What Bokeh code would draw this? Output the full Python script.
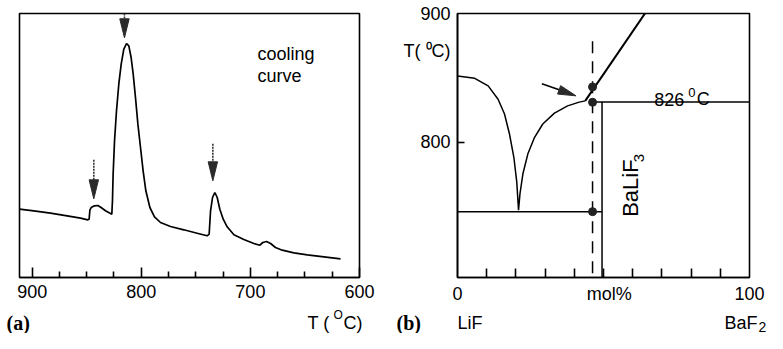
import math
from bokeh.plotting import figure
from bokeh.models import Range1d, FixedTicker, Label
from bokeh.layouts import row, column
from bokeh.embed import file_html
from bokeh.resources import INLINE

FONT = "Liberation Sans"
SERIF = "Liberation Serif"

# ---------------- data: panel (a) DTA cooling curve ----------------
dta_T = [911.6, 898.5, 883.2, 867.9, 855.7, 849.0, 847.8, 847.1, 845.9, 842.9,
         839.8, 836.8, 832.8, 828.2, 827.0, 826.4, 825.8, 824.5, 822.7, 820.6,
         818.4, 816.0, 813.5, 811.4, 809.3, 807.4, 805.3, 803.1, 800.7, 798.3,
         795.8, 792.1, 787.9, 782.4, 773.2, 761.0, 748.8, 739.6, 737.8, 736.5,
         734.7, 732.6, 730.4, 728.0, 724.9, 721.3, 715.1, 706.0, 696.8, 691.3,
         688.6, 685.2, 681.5, 677.0, 670.8, 660.1, 647.9, 632.6, 617.4]
dta_signal = [68.3, 66.7, 64.3, 61.7, 59.3, 57.7, 58.3, 67.3, 70.0, 71.7,
              72.0, 70.0, 66.7, 64.0, 63.3, 76.7, 103.3, 136.7, 166.7, 193.3,
              213.3, 228.3, 234.0, 231.7, 220.0, 203.3, 180.0, 153.3, 130.0, 106.7,
              86.7, 70.0, 60.7, 55.0, 51.0, 47.7, 44.3, 41.7, 43.3, 66.7,
              80.0, 85.0, 80.0, 68.3, 58.3, 50.7, 42.7, 38.0, 34.0, 32.3,
              35.0, 36.0, 34.0, 30.0, 27.3, 24.7, 22.7, 20.7, 18.7]
arrow_a_T = [843.5, 815.4, 734.4]
arrow_a_top = [117.7, 264.0, 133.7]
arrow_a_tip = [78.7, 239.7, 96.7]
a_major_ticks = [900, 800, 700, 600]
a_minor_ticks = [875, 850, 825, 775, 750, 725, 675, 650, 625]
a_T_range = [911.6, 600.0]
a_signal_range = [0.0, 264.0]

# ---------------- data: panel (b) LiF-BaF2 phase diagram ----------------
liq_m = [0, 5.9, 10.5, 13.9, 16.1, 17.8, 19.3, 20.3, 20.9, 21.4, 22.4, 24.1,
         26.4, 29.2, 33.2, 37.7, 41.7, 43.75]
liq_T = [851.8, 850.0, 844.1, 833.7, 822.1, 806.5, 788.3, 768.9, 746.9, 759.9,
         775.4, 791.0, 803.9, 814.3, 822.8, 828.5, 831.4, 832.4]
baf2_liq_m = [43.75, 65.6]
baf2_liq_T = [832.4, 905.4]
peritectic_T = 831.5
peritectic_label = "826"
peritectic_m = [45.5, 100.0]
compound_m = 49.5
eutectic_T = 745.8
eutectic_m = [0.0, 49.5]
sample_m = 46.25
sample_top_T = 879.0
dots_T = [843.3, 831.3, 745.8]
arrow_b_start = [28.9, 845.8]
arrow_b_end = [40.6, 836.3]
b_x_major = [0, 52, 100]
b_x_labels = {52: "mol%"}
b_x_minor = [10, 20, 30, 40, 50, 60, 70, 80, 90]
b_y_major = [800, 871, 900]
b_y_labels = {871: "T( \u2070C)"}
b_y_minor = [800]
b_m_range = [0.0, 100.0]
b_T_range = [694.3, 900.7]

# ---------------- layout (pixels) ----------------
H1, TXT_H = 306, 27
A_W, A_L, A_R, A_T = 389, 19, 30, 13
B_W, B_L, B_R, B_T = 378, 68, 18, 12
A_FW, A_FH = A_W - A_L - A_R, 264
B_FW, B_FH = B_W - B_L - B_R, 266
A_B = H1 - A_T - A_FH
B_B = H1 - B_T - B_FH
TOTAL_W = A_W + B_W

a_sx = A_FW / (a_T_range[1] - a_T_range[0])
a_sy = A_FH / (a_signal_range[1] - a_signal_range[0])
b_sx = B_FW / (b_m_range[1] - b_m_range[0])
b_sy = B_FH / (b_T_range[1] - b_T_range[0])


def ax_(px):
    return a_T_range[0] + (px - A_L) / a_sx


def ay_(py):
    return a_signal_range[1] - (py - A_T) / a_sy


def bm_ref(px):
    return (px - 459.3) / 2.933


def bT_ref(py):
    return 800 + (141.7 - py) / 1.287


def head(x_tip, y_tip, x_from, y_from, sx, sy, length, hw):
    dx = (x_tip - x_from) * sx
    dy = (y_tip - y_from) * sy
    L = math.hypot(dx, dy)
    ux, uy = dx / L, dy / L
    nx, ny = -uy, ux
    bx, by = -ux * length, -uy * length
    offs = [(bx + nx * hw, by + ny * hw), (bx - nx * hw, by - ny * hw), (0, 0)]
    xs = [x_tip + o[0] / sx for o in offs]
    ys = [y_tip + o[1] / sy for o in offs]
    return xs, ys, x_tip + bx / sx, y_tip + by / sy


def style(p):
    p.grid.visible = False
    p.outline_line_color = "black"
    p.outline_line_width = 1.6
    p.outline_line_alpha = 1.0
    p.background_fill_color = "white"
    p.border_fill_color = "white"


def label(p, x, y, text, size="18px", font=FONT, bold=False, align="left",
          angle=0.0, y_offset=0):
    p.add_layout(Label(x=x, y=y, text=text, text_font=font, text_font_size=size,
                       text_font_style="bold" if bold else "normal",
                       text_align=align, text_baseline="alphabetic",
                       text_color="black", angle=angle, y_offset=y_offset))


def axis_style(ax):
    ax.axis_line_width = 1.6
    ax.major_label_text_font = FONT
    ax.major_label_text_font_size = "18px"
    ax.major_label_text_color = "black"
    ax.minor_tick_out = 0
    ax.major_tick_out = 0
    ax.minor_tick_line_width = 1.6
    ax.major_tick_line_width = 1.6


# ---------------- panel (a) ----------------
pa = figure(width=A_W, height=H1, title=None, x_range=Range1d(*a_T_range),
            y_range=Range1d(*a_signal_range), y_axis_location=None,
            toolbar_location=None, output_backend="svg",
            min_border_left=A_L, min_border_right=A_R,
            min_border_top=A_T, min_border_bottom=A_B)
style(pa)
xa = pa.xaxis[0]
xa.ticker = FixedTicker(ticks=a_major_ticks, minor_ticks=a_minor_ticks)
axis_style(xa)
xa.major_tick_in = 10
xa.minor_tick_in = 6
xa.major_label_standoff = 7

pa.line(dta_T, dta_signal, line_color="black", line_width=1.7)

hxs, hys, bys = [], [], []
for T, tip in zip(arrow_a_T, arrow_a_tip):
    xs, ys, _, yb = head(T, tip, T, tip + 10, a_sx, a_sy, 19, 4.7)
    hxs.append(xs)
    hys.append(ys)
    bys.append(yb)
pa.segment(x0=arrow_a_T, y0=arrow_a_top, x1=arrow_a_T, y1=bys,
           line_color="#333333", line_width=1.6, line_dash="2 1")
pa.patches(hxs, hys, fill_color="#2a2a2a", line_color="#2a2a2a", line_width=1)

label(pa, ax_(257), ay_(53.7), "cooling")
label(pa, ax_(257), ay_(75), "curve")

# ---------------- panel (b) ----------------
pb = figure(width=B_W, height=H1, title=None, x_range=Range1d(*b_m_range),
            y_range=Range1d(*b_T_range), toolbar_location=None,
            output_backend="svg",
            min_border_left=B_L, min_border_right=B_R,
            min_border_top=B_T, min_border_bottom=B_B)
style(pb)
xb = pb.xaxis[0]
xb.ticker = FixedTicker(ticks=b_x_major, minor_ticks=b_x_minor)
xb.major_label_overrides = b_x_labels
yb = pb.yaxis[0]
yb.ticker = FixedTicker(ticks=b_y_major, minor_ticks=b_y_minor)
yb.major_label_overrides = b_y_labels
for ax, mi in ((xb, 9), (yb, 7)):
    axis_style(ax)
    ax.major_tick_line_color = None
    ax.major_tick_in = 0
    ax.minor_tick_in = mi
xb.major_label_standoff = 6
yb.major_label_standoff = 7

LW = 1.5
pb.line(liq_m, liq_T, line_color="black", line_width=LW)
pb.line(baf2_liq_m, baf2_liq_T, line_color="black", line_width=2)
pb.line(peritectic_m, [peritectic_T] * len(peritectic_m), line_color="black", line_width=LW)
pb.segment(x0=[compound_m], y0=[peritectic_T], x1=[compound_m], y1=[b_T_range[0]],
           line_color="black", line_width=LW)
pb.line(eutectic_m, [eutectic_T] * len(eutectic_m), line_color="black", line_width=LW)
pb.segment(x0=[sample_m], y0=[sample_top_T], x1=[sample_m], y1=[b_T_range[0]],
           line_color="black", line_width=1.5, line_dash="12 8")
pb.scatter([sample_m] * len(dots_T), dots_T, marker="circle", size=8,
           fill_color="#222222", line_color="#222222")

hx, hy, bxm, byT = head(arrow_b_end[0], arrow_b_end[1], arrow_b_start[0], arrow_b_start[1],
                        b_sx, b_sy, 18, 4.5)
pb.segment(x0=[arrow_b_start[0]], y0=[arrow_b_start[1]], x1=[bxm], y1=[byT],
           line_color="black", line_width=1.6)
pb.patches([hx], [hy], fill_color="#2a2a2a", line_color="#2a2a2a", line_width=1)

label(pb, bm_ref(657), peritectic_T, peritectic_label, y_offset=3)
label(pb, bm_ref(691), peritectic_T, "0", size="13px", y_offset=10)
label(pb, bm_ref(699.5), peritectic_T, "C", y_offset=3)
label(pb, bm_ref(633), bT_ref(216.7), "BaLiF", size="22px", angle=math.pi / 2)
label(pb, bm_ref(641.7), bT_ref(161.7), "3", size="15px", angle=math.pi / 2)

# ---------------- caption row (panel letters and axis names) ----------------
tf = figure(width=TOTAL_W, height=TXT_H, title=None, x_range=Range1d(0, TOTAL_W),
            y_range=Range1d(TXT_H, 0), x_axis_location=None, y_axis_location=None,
            toolbar_location=None, output_backend="svg",
            min_border_left=0, min_border_right=0, min_border_top=0, min_border_bottom=0)
tf.grid.visible = False
tf.outline_line_color = None
tf.background_fill_color = "white"
tf.border_fill_color = "white"

BASE = 16
label(tf, 6, BASE, "(a)", size="20px", font=SERIF, bold=True)
label(tf, 307, BASE, "T (")
label(tf, 333, BASE - 8, "O", size="12px")
label(tf, 343, BASE, "C)")
label(tf, 396, BASE, "(b)", size="20px", font=SERIF, bold=True)
label(tf, A_W + B_L, BASE, "LiF")
label(tf, 724, BASE, "BaF")
label(tf, 758, BASE + 4, "2", size="14px")

layout = column(row(pa, pb), tf)
open("out.html", "w").write(file_html(layout, INLINE))
